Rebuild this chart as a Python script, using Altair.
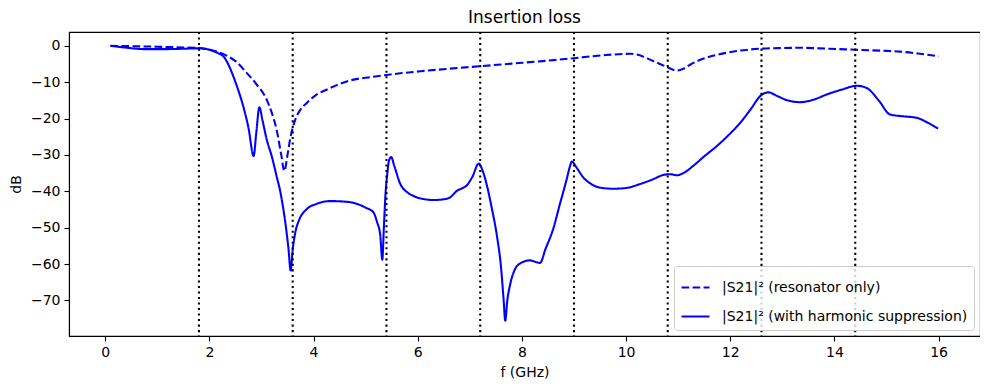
import altair as alt
import pandas as pd

# Resonator only (dashed)
f_res = [0.1, 0.5, 1.0, 1.5, 1.8, 2.1, 2.3, 2.5, 2.72, 2.9, 3.1, 3.2, 3.29, 3.38, 3.44,
         3.5, 3.55, 3.65, 3.75, 3.87, 4.05, 4.26, 4.5, 4.77, 5.1, 5.41, 5.7, 6.05, 6.6,
         7.2, 7.8, 8.4, 9.0, 9.56, 10.08, 10.3, 10.46, 10.65, 10.78, 10.97, 11.1, 11.23,
         11.45, 11.74, 12.1, 12.57, 13.0, 13.34, 13.9, 14.43, 15.0, 15.26, 15.6, 16.0]
db_res = [0.0, -0.1, -0.25, -0.45, -0.6, -1.4, -2.5, -4.2, -7.5, -10.5, -14.8, -18.5, -23.0,
          -30.0, -34.4, -30.0, -25.7, -20.3, -17.5, -15.7, -13.5, -12.0, -10.5, -9.3, -8.6,
          -8.0, -7.5, -7.0, -6.3, -5.6, -4.9, -4.2, -3.4, -2.6, -2.2, -2.8, -3.8, -5.0, -5.8,
          -6.8, -6.3, -5.2, -3.7, -2.5, -1.5, -0.8, -0.6, -0.55, -0.8, -1.1, -1.4, -1.6,
          -2.1, -2.9]

# With harmonic suppression (solid)
f_hs = [0.1, 0.4, 0.74, 1.18, 1.5, 1.76, 1.95, 2.08, 2.18, 2.27, 2.36, 2.46, 2.55, 2.65,
        2.75, 2.85, 2.9, 2.96, 3.02, 3.1, 3.2, 3.29, 3.36, 3.42, 3.48, 3.52, 3.56, 3.6,
        3.65, 3.72, 3.87, 4.05, 4.32, 4.55, 4.77, 5.0, 5.15, 5.22, 5.28, 5.32, 5.35, 5.38,
        5.41, 5.45, 5.49, 5.55, 5.66, 5.8, 5.92, 6.1, 6.3, 6.5, 6.62, 6.7, 6.75, 6.85,
        6.94, 7.05, 7.17, 7.25, 7.33, 7.42, 7.52, 7.6, 7.65, 7.68, 7.72, 7.77, 7.85, 7.97,
        8.16, 8.28, 8.35, 8.45, 8.6, 8.73, 8.86, 8.93, 8.96, 9.05, 9.18, 9.33, 9.5, 9.76,
        10.0, 10.27, 10.5, 10.72, 10.85, 10.97, 11.1, 11.29, 11.5, 11.74, 11.95, 12.19,
        12.4, 12.57, 12.73, 12.9, 13.1, 13.34, 13.6, 13.85, 14.15, 14.43, 14.62, 14.85,
        15.07, 15.26, 15.58, 15.8, 15.99]
db_hs = [0.0, -0.5, -0.9, -0.9, -0.8, -0.7, -0.9, -1.5, -2.1, -2.9, -5.0, -8.4, -12.0, -16.6,
         -22.5, -30.3, -24.0, -16.9, -20.5, -25.7, -30.5, -35.8, -40.0, -44.9, -51.0, -56.0,
         -61.8, -56.0, -51.3, -48.0, -44.9, -43.5, -42.7, -42.8, -43.2, -44.5, -45.8, -48.5,
         -52.0, -58.8, -50.0, -41.0, -36.0, -31.5, -30.6, -33.0, -37.8, -40.3, -41.3, -42.1,
         -42.4, -42.2, -41.7, -40.6, -39.9, -39.2, -38.4, -36.0, -32.4, -34.5, -38.5, -44.5,
         -52.2, -61.0, -70.0, -75.6, -70.0, -65.9, -62.0, -59.8, -59.0, -59.5, -59.7, -56.0,
         -50.4, -43.5, -36.7, -32.8, -31.8, -33.5, -36.2, -38.0, -39.0, -39.3, -39.1, -38.0,
         -36.8, -35.5, -35.3, -35.6, -35.0, -33.0, -30.4, -27.6, -24.8, -21.2, -17.3, -13.9,
         -12.8, -13.8, -15.0, -15.5, -14.8, -13.4, -12.0, -11.0, -11.6, -15.0, -18.9, -19.3,
         -19.8, -21.2, -22.8]

vlines = [1.8, 3.6, 5.4, 7.2, 9.0, 10.8, 12.6, 14.4]
x_ticks = [0, 2, 4, 6, 8, 10, 12, 14, 16]
y_ticks = [0, -10, -20, -30, -40, -50, -60, -70]

lab_res = "|S21|\u00b2 (resonator only)"
lab_hs = "|S21|\u00b2 (with harmonic suppression)"

df = pd.concat([
    pd.DataFrame({"f": f_res, "dB": db_res, "series": lab_res}),
    pd.DataFrame({"f": f_hs, "dB": db_hs, "series": lab_hs}),
])
dfv = pd.DataFrame({"f": vlines})

xscale = alt.Scale(domain=[-0.695, 16.795], nice=False, zero=False)
yscale = alt.Scale(domain=[-79.8, 3.8], nice=False, zero=False)

minus = "replace(datum.label, '-', '\u2212')"

lines = alt.Chart(df).mark_line(color="#0000ff", strokeWidth=2.08, interpolate="monotone").encode(
    x=alt.X("f:Q", scale=xscale, title="f (GHz)",
            axis=alt.Axis(values=x_ticks, labelExpr=minus, titlePadding=6)),
    y=alt.Y("dB:Q", scale=yscale, title="dB",
            axis=alt.Axis(values=y_ticks, labelExpr=minus, titlePadding=7)),
    strokeDash=alt.StrokeDash(
        "series:N",
        scale=alt.Scale(domain=[lab_res, lab_hs], range=[[7.7, 3.33], [1, 0]]),
        legend=alt.Legend(title=None, orient="bottom-right", offset=6,
                          symbolType="stroke", symbolSize=784, symbolStrokeWidth=2.08,
                          symbolStrokeColor="#0000ff", labelFontSize=14,
                          labelFont="DejaVu Sans", labelColor="black",
                          labelOffset=11, rowPadding=6, padding=6,
                          fillColor="rgba(255,255,255,0.8)", strokeColor="#cccccc",
                          cornerRadius=3, labelLimit=400),
    ),
)

rules = alt.Chart(dfv).mark_rule(color="black", strokeWidth=2.08, strokeDash=[2.08, 3.44]).encode(
    x=alt.X("f:Q", scale=xscale)
)

chart = alt.layer(lines, rules).properties(
    width=911, height=304,
    title=alt.TitleParams("Insertion loss", fontSize=17, font="DejaVu Sans",
                          fontWeight="normal", color="black", offset=4),
    autosize="none",
    padding={"left": 61, "top": 24, "right": 0, "bottom": 50},
).configure_view(
    stroke="black", strokeWidth=1.1
).configure_axis(
    labelFont="DejaVu Sans", labelFontSize=14, labelColor="black",
    titleFont="DejaVu Sans", titleFontSize=14, titleFontWeight="normal", titleColor="black",
    tickColor="black", tickSize=5, tickWidth=1.1, domainColor="black", domainWidth=1.1,
    labelPadding=4, grid=False
)

chart.save("out.html", embed_options={"renderer": "svg", "actions": False})
